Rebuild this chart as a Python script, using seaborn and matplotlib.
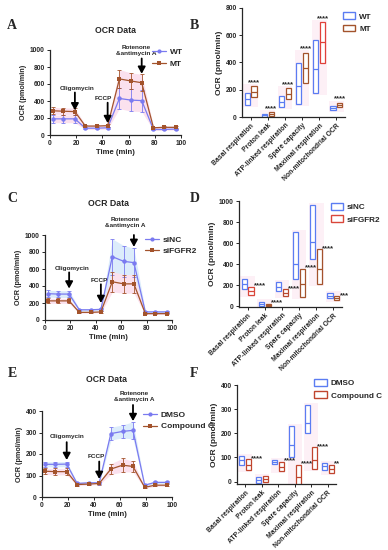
import matplotlib
matplotlib.use('Agg')
import matplotlib.pyplot as plt
from matplotlib.patches import Patch
from matplotlib.lines import Line2D
import numpy as np
import pandas as pd
import seaborn as sns

# ---- time course data (OCR, pmol/min) ----
time_min = [2, 10, 19, 27, 36, 44, 53, 62, 70, 79, 87, 96]

wt_mean = [190, 190, 190, 80, 80, 85, 430, 410, 405, 65, 65, 70]
wt_sd = [45, 45, 45, 15, 15, 15, 120, 130, 130, 10, 10, 10]
mt_mean = [285, 280, 275, 105, 105, 110, 660, 635, 615, 85, 90, 90]
mt_sd = [40, 40, 40, 15, 15, 15, 110, 95, 100, 15, 15, 15]

sinc_mean = [310, 305, 305, 120, 120, 125, 745, 690, 675, 95, 95, 95]
sinc_sd = [40, 40, 40, 15, 15, 15, 210, 185, 170, 15, 15, 15]
sifgfr2_mean = [225, 225, 225, 90, 90, 95, 450, 425, 425, 75, 75, 75]
sifgfr2_sd = [30, 30, 30, 10, 10, 10, 120, 110, 110, 10, 10, 10]

dmso_mean = [152, 152, 153, 63, 66, 66, 295, 305, 310, 55, 68, 68]
dmso_sd = [12, 12, 12, 5, 5, 5, 30, 30, 40, 5, 5, 5]
cc_mean = [120, 118, 118, 58, 60, 63, 130, 148, 142, 45, 55, 55]
cc_sd = [15, 15, 15, 5, 5, 5, 25, 32, 25, 5, 5, 5]

# ---- summary parameters (min / median / max) ----
categories = ['Basal respiration', 'Proton leak', 'ATP-linked respiration',
              'Spare capacity', 'Maximal respiration', 'Non-mitochondrial OCR']

wt_low = [88, 0, 74, 96, 179, 52]
wt_mid = [132, 12, 113, 228, 351, 66]
wt_high = [176, 25, 155, 397, 567, 81]
mt_low = [145, 7, 132, 248, 395, 71]
mt_mid = [186, 20, 169, 360, 549, 88]
mt_high = [228, 35, 213, 473, 697, 105]
stars_b = ['****', '****', '****', '****', '****', '****']

sinc_low = [164, 0, 142, 265, 450, 79]
sinc_mid = [211, 25, 180, 401, 610, 100]
sinc_high = [265, 47, 233, 706, 965, 123]
fg_low = [107, 0, 101, 91, 211, 63]
fg_mid = [148, 14, 132, 211, 353, 80]
fg_high = [186, 28, 164, 360, 543, 95]
stars_d = ['****', '****', '****', '****', '****', '***']

dm_low = [69, -4, 72, 103, 200, 46]
dm_mid = [90, 7, 81, 152, 241, 64]
dm_high = [106, 17, 90, 230, 317, 79]
ccb_low = [48, 0, 44, -25, 51, 37]
ccb_mid = [69, 11, 62, 21, 90, 54]
ccb_high = [93, 24, 83, 69, 142, 69]
stars_f = ['****', '', '****', '****', '****', '**']

sns.set_style('ticks')
plt.rcParams['font.family'] = ['Liberation Sans', 'DejaVu Sans']
plt.rcParams['font.weight'] = 'bold'
plt.rcParams['axes.labelweight'] = 'bold'
plt.rcParams['axes.titleweight'] = 'bold'

BLUE = '#7a7af0'
BROWN = '#a3532c'
BLUE_BAND = '#dcecfb'
PINK_BAND = '#fbe1ee'


def style_axes(ax):
    sns.despine(ax=ax)
    for s in ['left', 'bottom']:
        ax.spines[s].set_linewidth(0.9)
    ax.tick_params(labelsize=4.8, length=2.2, width=0.7, pad=1.5)


def line_panel(ax, names, means, sds, bands, ylim, ystep, title_pad, arrows, leg_pos):
    rows = []
    for name, mean in zip(names, means):
        for t, v in zip(time_min, mean):
            rows.append({'time': t, 'ocr': v, 'group': name})
    df = pd.DataFrame(rows)
    colors = [BLUE, BROWN]
    for mean, sd, band in zip(means, sds, bands):
        m = np.array(mean)
        s = np.array(sd)
        ax.fill_between(time_min, m - s, m + s, color=band, lw=0, zorder=0)
    for mean, sd, c in zip(means, sds, colors):
        ax.errorbar(time_min, mean, yerr=sd, fmt='none', ecolor=c,
                    elinewidth=0.6, capsize=1.5, capthick=0.6, zorder=2)
    sns.lineplot(data=df, x='time', y='ocr', hue='group', style='group',
                 markers=['o', 's'], dashes=False, palette=colors,
                 markersize=3.2, markeredgewidth=0, lw=0.9, ax=ax, legend=False, zorder=3)
    ax.set_xlim(0, 100)
    ax.set_ylim(*ylim)
    ax.set_xticks(range(0, 101, 20))
    ax.set_yticks(range(0, ylim[1] + 1, ystep))
    ax.set_xlabel('Time (min)', fontsize=5.6, labelpad=1)
    ax.set_ylabel('OCR (pmol/min)', fontsize=5.2, labelpad=2)
    ax.set_title('OCR Data', fontsize=6.3, pad=title_pad)
    style_axes(ax)
    for label, tx, ty, x, tail, tip in arrows:
        ax.annotate('', xy=(x, tip), xytext=(x, tail),
                    arrowprops=dict(arrowstyle='-|>,head_width=0.22,head_length=0.4',
                                    color='black', lw=1.3, shrinkA=0, shrinkB=0))
        ax.text(tx, ty, label, ha='center', va='bottom', fontsize=4.6, linespacing=1.3)
    handles = [Line2D([], [], color=c, marker=mk, markersize=3, lw=0.9, markeredgewidth=0)
               for c, mk in zip(colors, ['o', 's'])]
    ax.legend(handles, names, loc='upper left', bbox_to_anchor=leg_pos, frameon=False,
              fontsize=6, handlelength=1.6, handletextpad=0.5, labelspacing=0.45,
              borderpad=0, borderaxespad=0)


def bar_panel(ax, names, lows, mids, highs, colors, stars, ylim, ystep, star_mode, leg_pos):
    x = np.arange(len(categories))
    # pale halo behind each pair
    lo_all = np.minimum(lows[0], lows[1])
    hi_all = np.maximum(highs[0], highs[1])
    ax.bar(x, hi_all - lo_all + (ylim[1] - ylim[0]) * 0.04,
           bottom=lo_all - (ylim[1] - ylim[0]) * 0.02, width=0.85,
           color='#fdf0f6', lw=0, zorder=0)
    for k, off in enumerate([-0.2, 0.2]):
        lo = np.array(lows[k])
        hi = np.array(highs[k])
        cols = colors[k]
        ax.bar(x + off, hi - lo, bottom=lo, width=0.3, facecolor='white',
               edgecolor=cols, lw=0.9, zorder=2)
        ax.hlines(mids[k], x + off - 0.15, x + off + 0.15, colors=cols, lw=0.9, zorder=3)
    for i, s in enumerate(stars):
        if not s:
            continue
        if star_mode == 'above':
            ax.annotate(s, xy=(x[i] + 0.2, highs[1][i]), xytext=(0, 0),
                        textcoords='offset points', ha='center', va='bottom', fontsize=5.6)
        else:
            ax.annotate(s, xy=(x[i] + 0.36, highs[1][i]), xytext=(0, -2),
                        textcoords='offset points', ha='left', va='bottom', fontsize=5.6)
    ax.set_xlim(-0.5, 5.5)
    ax.set_ylim(*ylim)
    ax.set_yticks(range(0, ylim[1] + 1, ystep))
    ax.set_xticks(x)
    ax.set_xticklabels(categories, rotation=45, ha='right', rotation_mode='anchor', fontsize=4.9)
    ax.set_ylabel('OCR (pmol/min)', fontsize=6, labelpad=2)
    style_axes(ax)
    ax.tick_params(axis='x', labelsize=4.9)
    handles = [Patch(facecolor='white', edgecolor=c[0], lw=1.0) for c in colors]
    ax.legend(handles, names, loc='upper left', bbox_to_anchor=leg_pos, frameon=False,
              fontsize=5.9, handlelength=1.5, handleheight=0.9, handletextpad=0.5,
              labelspacing=0.5, borderpad=0, borderaxespad=0)


fig = plt.figure(figsize=(3.88, 5.5), dpi=100)

# A
axA = fig.add_axes([50 / 388, 1 - 135 / 550, 131 / 388, 85 / 550])
line_panel(axA, ['WT', 'MT'], [wt_mean, mt_mean], [wt_sd, mt_sd], [PINK_BAND, PINK_BAND],
           (0, 1000), 200, 12,
           [('Oligomycin', 21, 520, 19, 500, 290),
            ('FCCP', 41, 400, 44, 380, 140),
            ('Rotenone\n&antimycin A', 66, 930, 70, 900, 720)],
           (0.78, 1.02))

# B
axB = fig.add_axes([242 / 388, 1 - 117 / 550, 103 / 388, 109 / 550])
bar_panel(axB, ['WT', 'MT'], [wt_low, mt_low], [wt_mid, mt_mid], [wt_high, mt_high],
          [['#5b7cf2'] * 6, [BROWN, BROWN, BROWN, BROWN, '#e0403a', BROWN]],
          stars_b, (0, 800), 200, 'above', (0.98, 0.96))

# C
axC = fig.add_axes([45 / 388, 1 - 320 / 550, 127 / 388, 85 / 550])
line_panel(axC, ['siNC', 'siFGFR2'], [sinc_mean, sifgfr2_mean], [sinc_sd, sifgfr2_sd],
           [BLUE_BAND, PINK_BAND], (0, 1000), 200, 21,
           [('Oligomycin', 21, 580, 19, 560, 370),
            ('FCCP', 43, 440, 44, 420, 200),
            ('Rotenone\n&antimycin A', 63, 1080, 70, 1000, 860)],
           (0.79, 0.99))

# D
axD = fig.add_axes([239 / 388, 1 - 307 / 550, 103 / 388, 106 / 550])
bar_panel(axD, ['siNC', 'siFGFR2'], [sinc_low, fg_low], [sinc_mid, fg_mid], [sinc_high, fg_high],
          [['#5b7cf2'] * 6, ['#d9473a', BROWN, '#b8472f', BROWN, BROWN, BROWN]],
          stars_d, (-5, 1000), 200, 'side', (0.89, 0.98))

# E
axE = fig.add_axes([42 / 388, 1 - 497 / 550, 130 / 388, 86 / 550])
line_panel(axE, ['DMSO', 'Compound C'], [dmso_mean, cc_mean], [dmso_sd, cc_sd],
           [BLUE_BAND, PINK_BAND], (0, 400), 100, 21,
           [('Oligomycin', 19, 268, 19, 255, 172),
            ('FCCP', 42, 178, 44, 165, 84),
            ('Rotenone\n&antimycin A', 71, 440, 70, 428, 353)],
           (0.78, 1.0))

# F
axF = fig.add_axes([237 / 388, 1 - 484 / 550, 99 / 388, 99 / 550])
bar_panel(axF, ['DMSO', 'Compound C'], [dm_low, ccb_low], [dm_mid, ccb_mid], [dm_high, ccb_high],
          [['#5b7cf2'] * 6, ['#c0452e'] * 6],
          stars_f, (-10, 400), 100, 'side', (0.78, 1.06))

# panel letters
for letter, px, py in [('A', 7, 29), ('B', 190, 29), ('C', 7, 202), ('D', 190, 202),
                       ('E', 8, 377), ('F', 190, 377)]:
    fig.text(px / 388, 1 - py / 550, letter, fontsize=10, fontweight='bold',
             family=['Liberation Serif', 'DejaVu Serif'])

fig.savefig('out.png', dpi=100)
